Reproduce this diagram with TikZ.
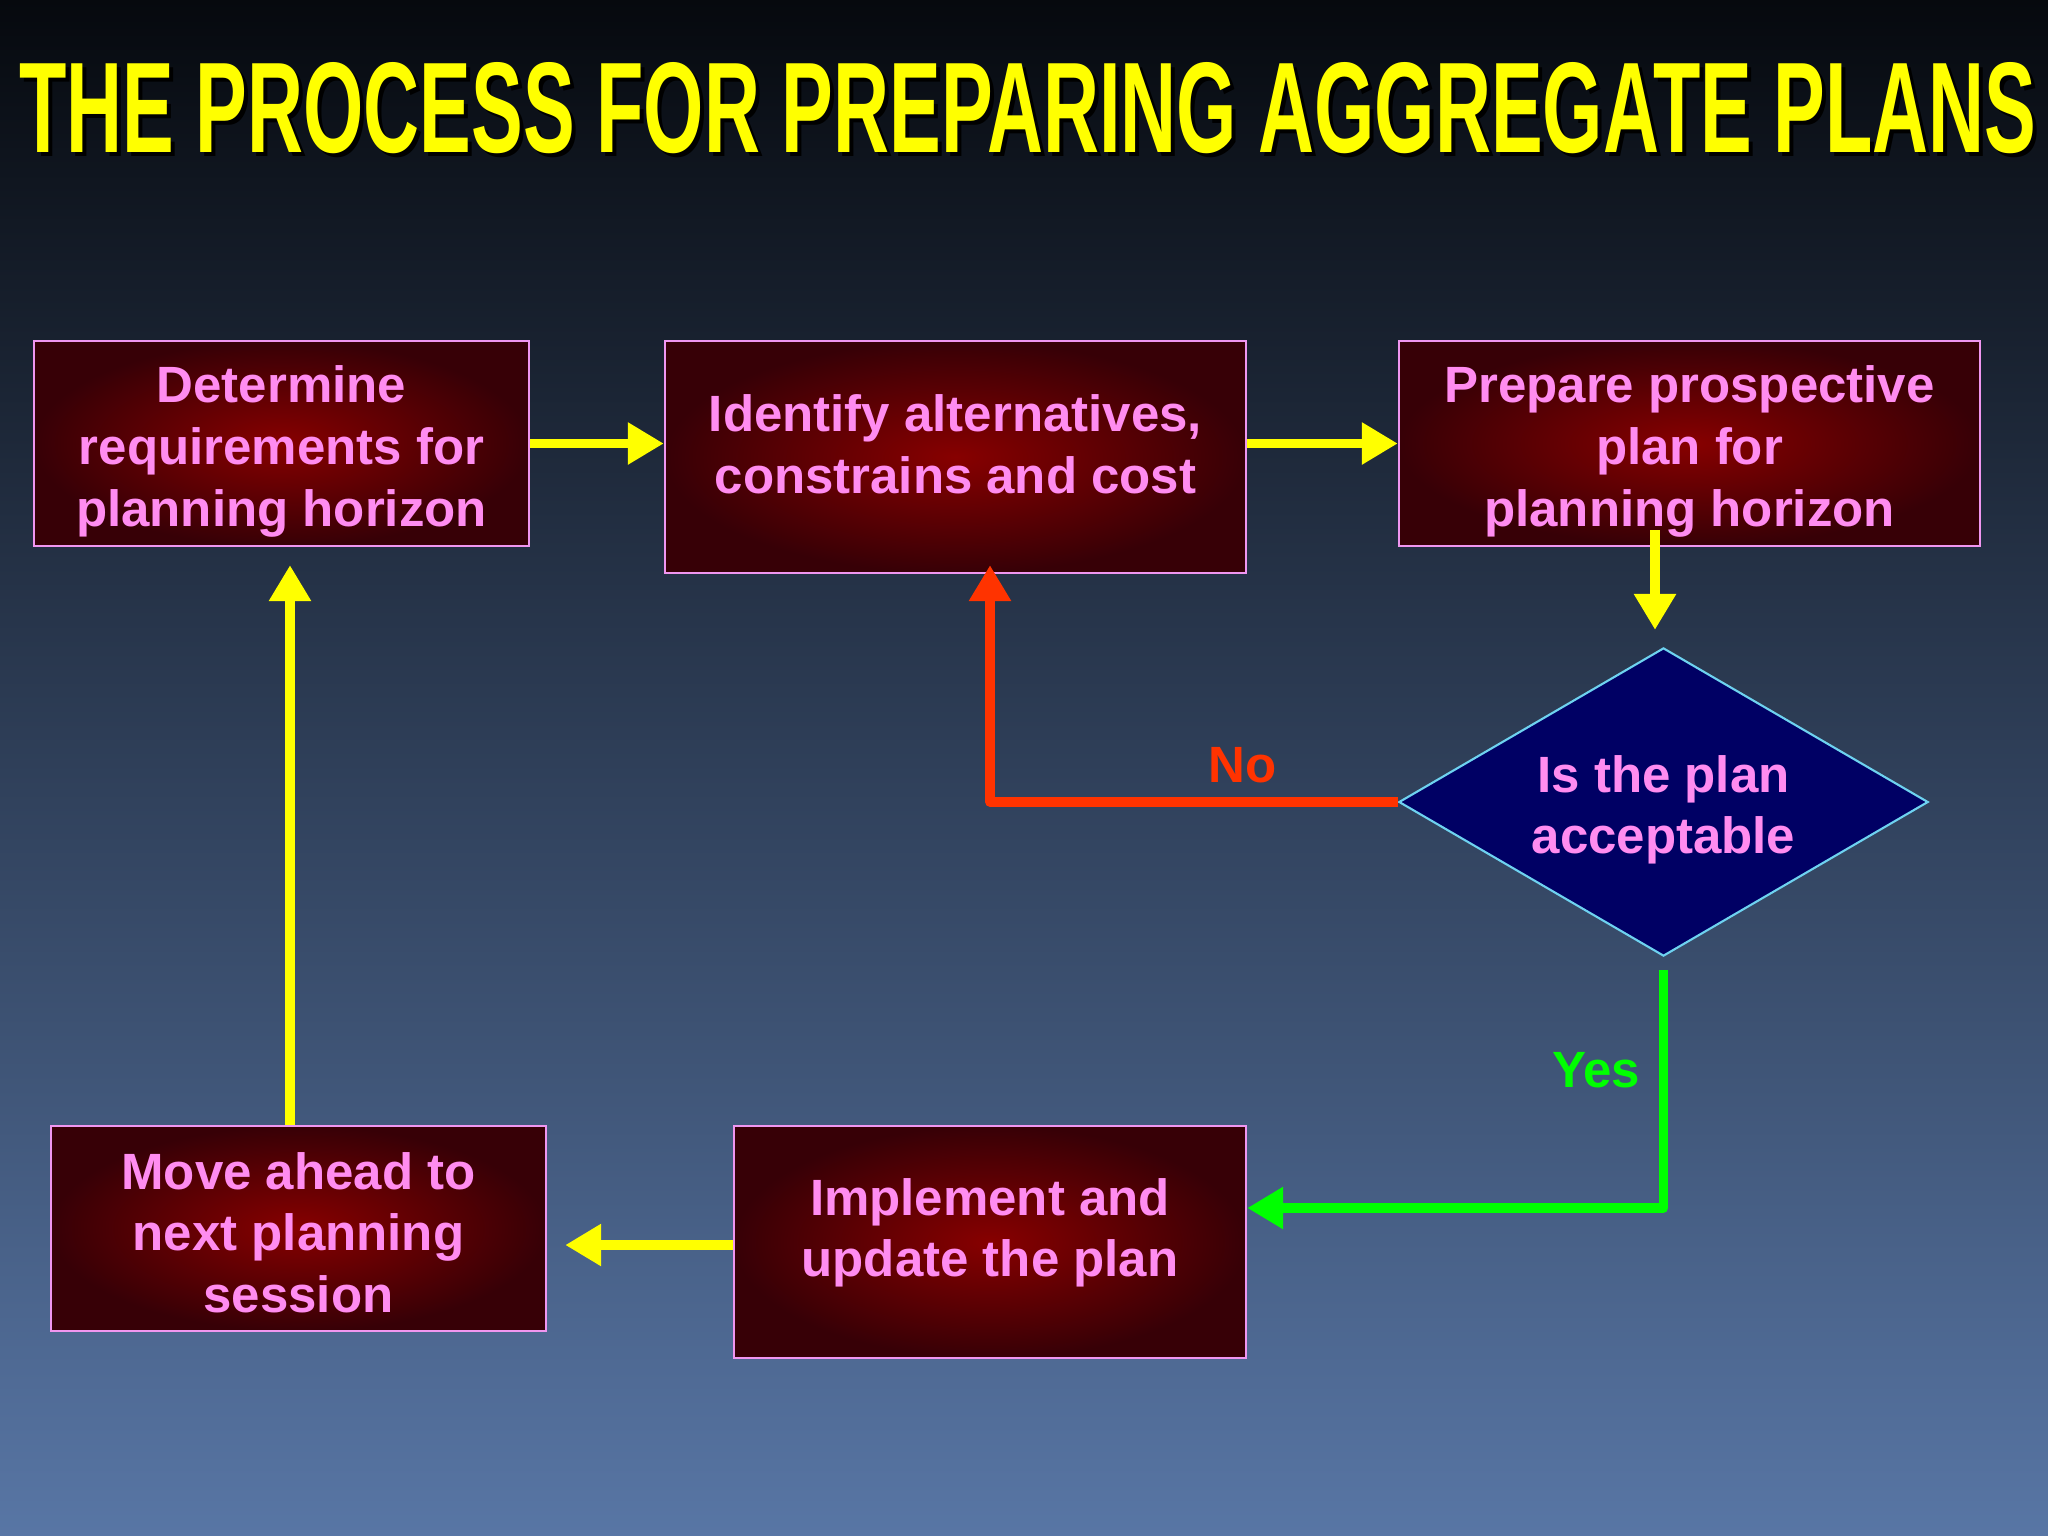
\documentclass[tikz,border=0pt]{standalone}
\usepackage{fontspec}
\setmainfont{Liberation Sans}
\usepackage{graphicx}
\usetikzlibrary{shapes.geometric, arrows.meta, calc}
\definecolor{bgtop}{RGB}{6,9,14}
\definecolor{bgbot}{RGB}{88,118,165}
\definecolor{boxin}{RGB}{135,0,0}
\definecolor{boxout}{RGB}{55,0,6}
\definecolor{pinktxt}{RGB}{255,140,240}
\definecolor{pinkline}{RGB}{240,150,240}
\definecolor{diafill}{RGB}{0,0,100}
\definecolor{dialine}{RGB}{110,210,240}
\definecolor{arryel}{RGB}{255,255,0}
\definecolor{arrred}{RGB}{255,51,0}
\definecolor{arrgrn}{RGB}{0,255,0}
\newcommand{\boxfont}{\fontsize{14.5}{17.5}\selectfont\bfseries}
\newcommand{\headline}{THE PROCESS FOR PREPARING AGGREGATE PLANS}
\tikzset{
    stepbox/.style={rectangle, draw=pinkline, line width=0.6pt,
        inner color=boxin, outer color=boxout, text=pinktxt,
        font=\boxfont, align=center, inner sep=0pt},
    askbox/.style={diamond, aspect=1.72, draw=dialine, line width=0.6pt, fill=diafill,
        text=pinktxt, font=\boxfont, align=center, inner sep=0pt,
        minimum width=5.29cm, minimum height=3.08cm},
    flow/.style={draw=arryel, line width=2.6pt,
        -{Triangle[width=0.4cm, length=0.36cm]}},
    nogo/.style={flow, draw=arrred, line join=round},
    yesgo/.style={flow, draw=arrgrn, line join=round},
    flowlabel/.style={font=\boxfont}
}

\begin{document}
\begin{tikzpicture}[x=0.01cm, y=-0.01cm]
                
                    \useasboundingbox (0,0) rectangle (2048,1536);
                    \shade [top color=bgtop, bottom color=bgbot] (0,0) rectangle (2048,1536);

                    \node [text=black, font=\bfseries] (shadow) at (1032,112)
                        {\resizebox{20.16cm}{0.9cm}{\headline}};
                    \node [text=arryel, font=\bfseries] (title) at (1028,108)
                        {\resizebox{20.16cm}{0.9cm}{\headline}};

                    \node [stepbox, minimum width=4.95cm, minimum height=2.05cm] (det) at (281.5,443.5)
                        {\rule{0pt}{15pt}Determine\\requirements for\\planning horizon};
                    \node [stepbox, minimum width=5.81cm, minimum height=2.32cm] (ide) at (955.5,457)
                        {Identify alternatives,\\constrains and cost\\[-10pt]\mbox{}};
                    \node [stepbox, minimum width=5.81cm, minimum height=2.05cm] (pre) at (1689.5,443.5)
                        {\rule{0pt}{15pt}Prepare prospective\\plan for\\planning horizon};
                    \node [askbox] (dia) at (1663.5,802)
                        {\rule{0pt}{15pt}Is the plan\\acceptable};
                    \node [stepbox, minimum width=5.12cm, minimum height=2.32cm] (imp) at (990,1242)
                        {Implement and\\update the plan\\[-9.2pt]\mbox{}};
                    \node [stepbox, minimum width=4.95cm, minimum height=2.05cm] (mov) at (298.5,1228.5)
                        {\rule{0pt}{12.8pt}Move ahead to\\next planning\\session};

                    \draw [flow] (det.east) -- (ide.west |- det.east);
                    \draw [flow] (ide.east |- pre.west) -- (pre.west);
                    \draw [flow] ($(pre.south -| dia.north)+(-8.5,-17)$)
                        -- ($(dia.north)+(-8.5,-17)$);
                    \draw [nogo] (dia.west) -| ($(ide.south)+(34.5,-9)$)
                        node [flowlabel, text=arrred, pos=0.19, above=0.03cm] (no) {No};
                    \draw [yesgo] ($(dia.south)+(0,13)$) |- ($(imp.east)+(0,-34)$)
                        node [flowlabel, text=arrgrn, pos=0.21, left=0.07cm] (yes) {Yes};
                    \draw [flow, shorten >=0.18cm] ($(imp.west)+(0,3)$)
                        -- ($(imp.west -| mov.east)+(0,3)$);
                    \draw [flow, shorten >=0.18cm] ($(mov.north)+(-8.5,0)$)
                        -- ($(mov.north |- det.south)+(-8.5,0)$);
                \end{tikzpicture}
\end{document}
